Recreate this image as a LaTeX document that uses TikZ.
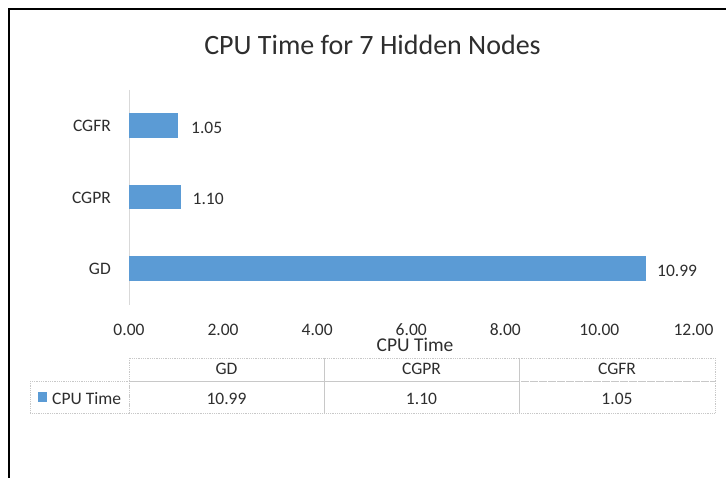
\documentclass[tikz,border=0pt]{standalone}
\usepackage{fontspec}
\setmainfont{Carlito}
\definecolor{barblue}{HTML}{5B9BD5}
\definecolor{txtgray}{HTML}{2E2E2E}
\definecolor{axisgray}{HTML}{D9D9D9}
\definecolor{gridgray}{HTML}{C8C8C8}
\begin{document}
\begin{tikzpicture}[x=1pt,y=-1pt,
  lbl/.style={inner sep=0pt,text=txtgray,font=\fontsize{17.5}{20}\selectfont},
  ttl/.style={inner sep=0pt,text=txtgray,font=\fontsize{28}{32}\selectfont},
  axttl/.style={inner sep=0pt,text=txtgray,font=\fontsize{19.5}{22}\selectfont},
  bar/.style={fill=barblue},
  cell/.style={draw=gridgray,line width=0.8pt,densely dotted},
  frame/.style={draw=black,line width=2pt}]
\useasboundingbox (0,0) rectangle (726,478);
\fill[white] (0,0) rectangle (726,478);
% outer frame (left and top edges only)
\draw[frame] (9.3,478) -- (9.3,9.3) -- (726,9.3);
% title
\node[ttl,anchor=base] (title) at (372.5,55) {CPU Time for 7 Hidden Nodes};
% category axis
\draw[axisgray,line width=1pt] (129,90) -- (129,305);
% bars (47.04 px per unit)
\fill[bar] (129,113) rectangle (178.4,138);
\fill[bar] (129,185) rectangle (180.7,209);
\fill[bar] (129,256) rectangle (646,281);
% category labels
\node[lbl,anchor=base east] (cgfr) at (111,132) {CGFR};
\node[lbl,anchor=base east] (cgpr) at (111,203.5) {CGPR};
\node[lbl,anchor=base east] (gd) at (111,275) {GD};
% value labels
\node[lbl,anchor=base west] (v1) at (191,134) {1.05};
\node[lbl,anchor=base west] (v2) at (192.5,205) {1.10};
\node[lbl,anchor=base west] (v3) at (657,276.5) {10.99};
% value axis tick labels
\foreach \v/\t [count=\i] in {0/0.00,2/2.00,4/4.00,6/6.00,8/8.00,10/10.00,12/12.00}
  \node[lbl,anchor=base] (tick\i) at ({129+47.04*\v},336) {\t};
\node[axttl,anchor=base] (axtitle) at (415,352) {CPU Time};
% data table
\draw[cell] (129,358) rectangle (324,381);
\draw[cell] (324,358) rectangle (519,381);
\draw[cell] (519,358) rectangle (715,381);
\draw[cell] (30,381) rectangle (129,413);
\draw[cell] (129,381) rectangle (324,413);
\draw[cell] (324,381) rectangle (519,413);
\draw[cell] (519,381) rectangle (715,413);
\node[lbl,anchor=base] (hgd) at (226.5,375) {GD};
\node[lbl,anchor=base] (hcgpr) at (421.5,375) {CGPR};
\node[lbl,anchor=base] (hcgfr) at (617,375) {CGFR};
\fill[barblue] (38,392) rectangle (47,402);
\node[lbl,anchor=base west] (legend) at (52,404) {CPU Time};
\node[lbl,anchor=base] (dgd) at (226.5,404) {10.99};
\node[lbl,anchor=base] (dcgpr) at (421.5,404) {1.10};
\node[lbl,anchor=base] (dcgfr) at (617,404) {1.05};
\end{tikzpicture}
\end{document}
